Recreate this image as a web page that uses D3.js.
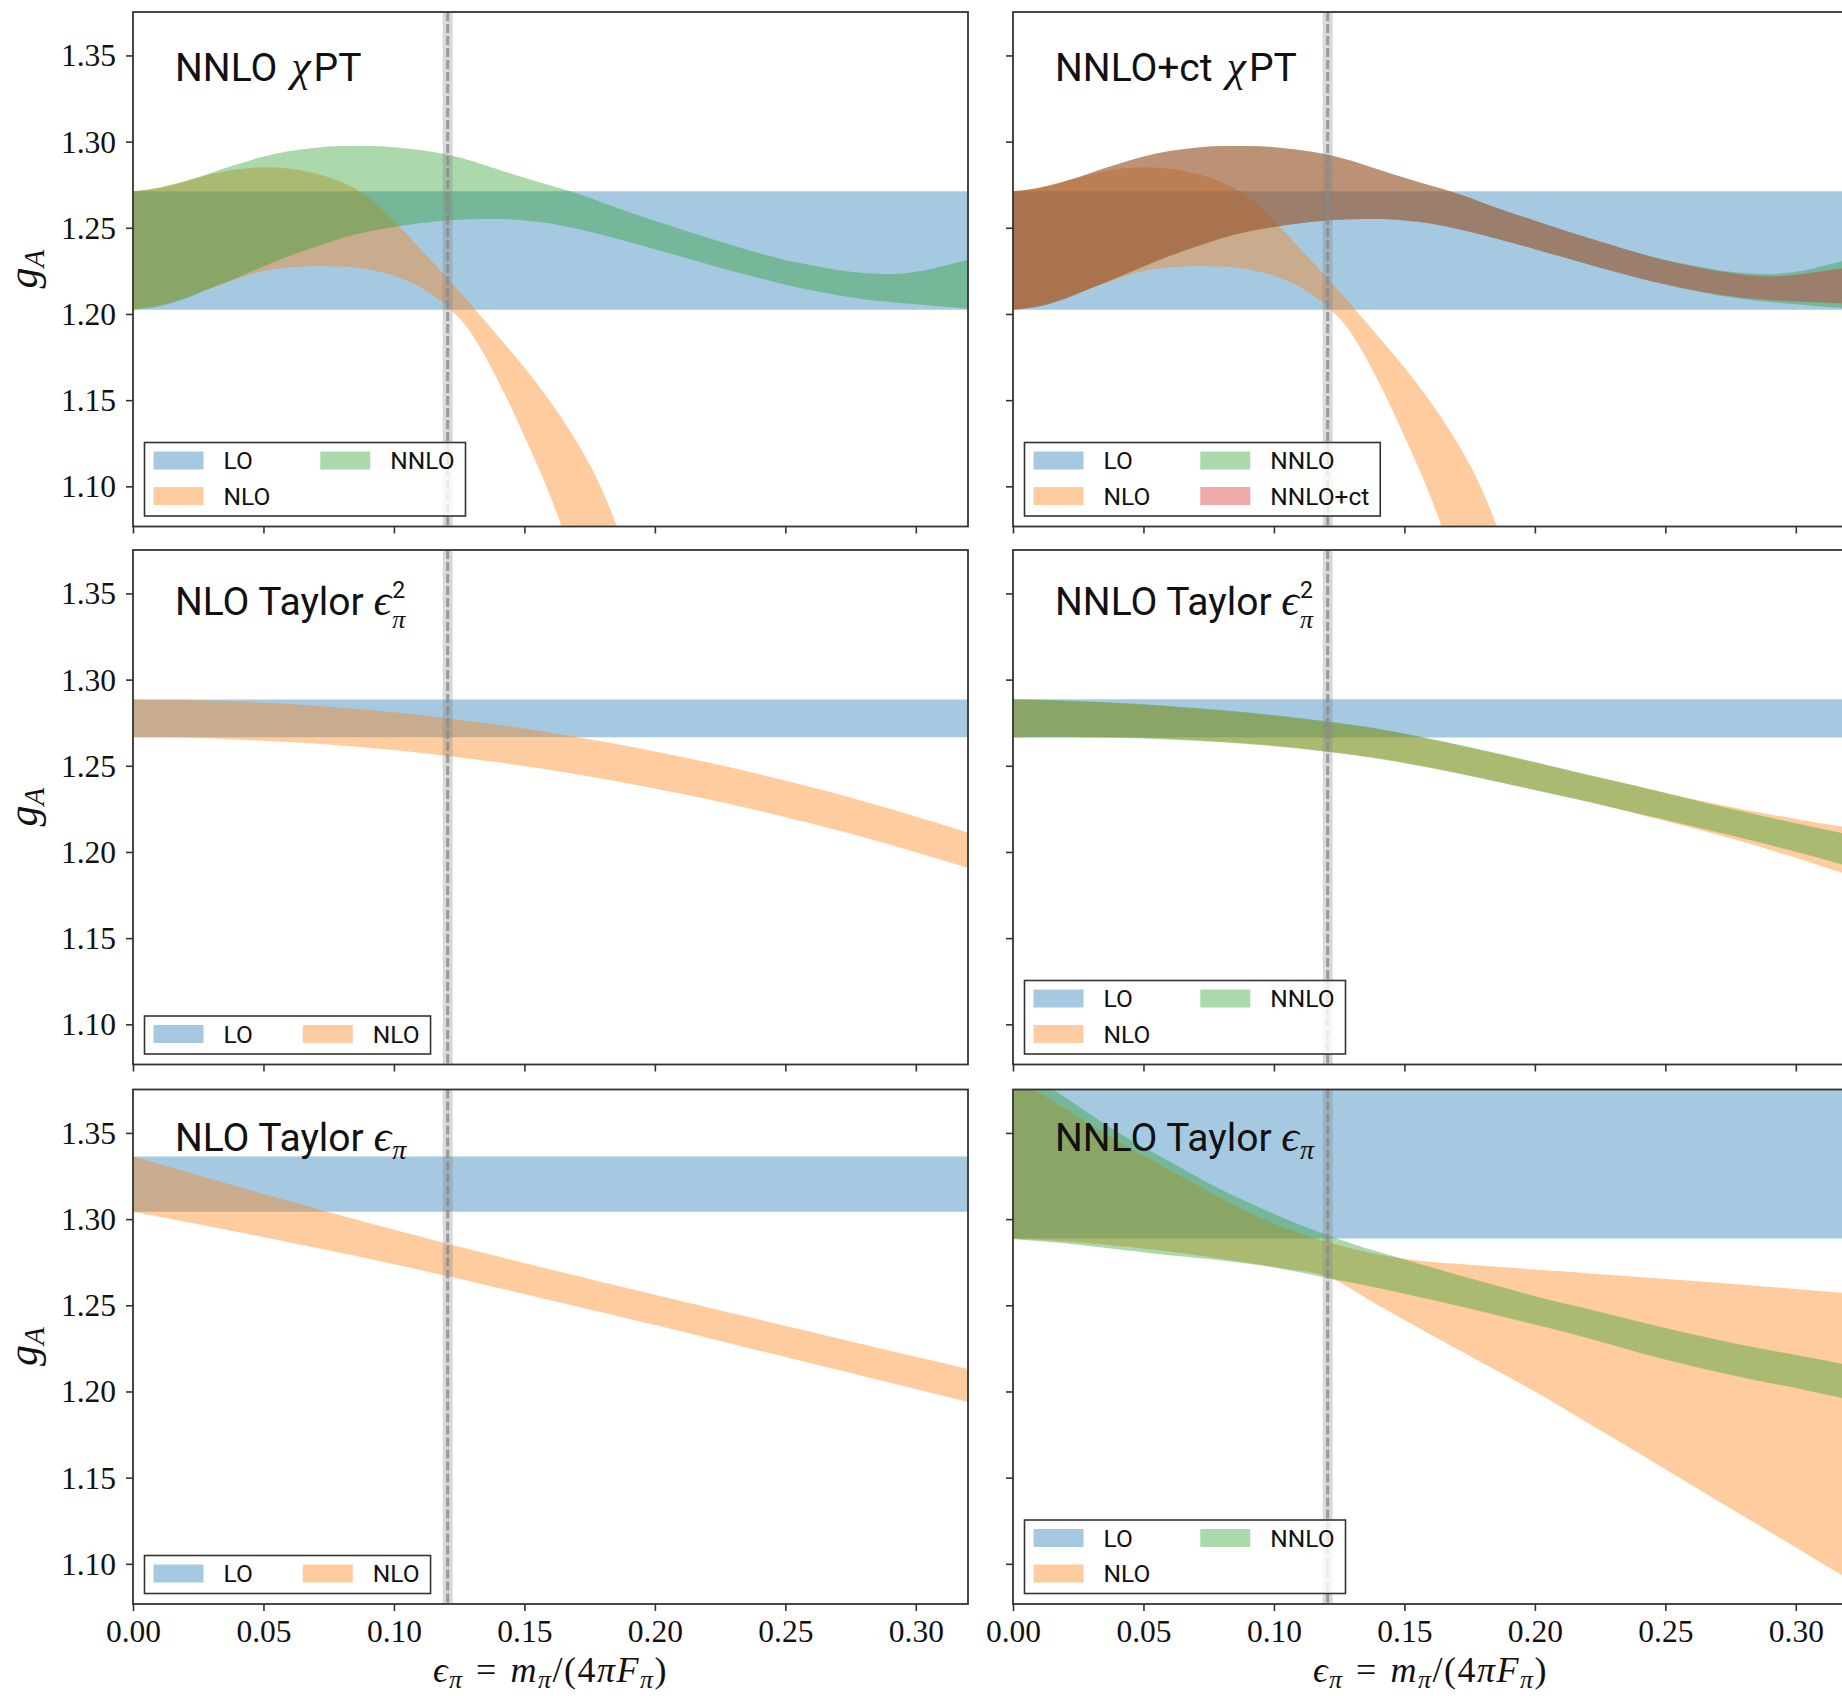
<!DOCTYPE html>
<html>
<head>
<meta charset="utf-8">
<script src="https://cdn.jsdelivr.net/npm/d3@7"></script>
<style>
  body { margin: 0; background: #fff; }
  svg { display: block; }
</style>
</head>
<body>
<svg id="fig" width="1842" height="1696"></svg>
<script>
// ---------------------------------------------------------------
// g_A versus eps_pi = m_pi/(4 pi F_pi): order-by-order bands
// ---------------------------------------------------------------

// x sample positions
const epsChi = [0.00,0.01,0.02,0.03,0.04,0.05,0.06,0.07,0.08,0.09,0.10,0.11,0.12,0.13,0.14,0.15,0.16,
                0.17,0.18,0.19,0.20,0.21,0.22,0.23,0.24,0.25,0.26,0.27,0.28,0.29,0.30,0.31,0.32];
const epsTaylor = [0.00,0.02,0.04,0.06,0.08,0.10,0.12,0.14,0.16,0.18,0.20,0.22,0.24,0.26,0.28,0.30,0.32];

// physical point
const epsPhys = 0.1206;
const epsPhysHalfWidth = 0.0019;

// tick labels
const xTicks = [0.00, 0.05, 0.10, 0.15, 0.20, 0.25, 0.30];
const yTicks = [1.10, 1.15, 1.20, 1.25, 1.30, 1.35];

// --- NNLO chiPT fit (top row) ---
const chiLO = [1.2025, 1.2712];
const chiNLOlo = [1.2025,1.2050,1.2095,1.2150,1.2205,1.2250,1.2270,1.2279,1.2276,1.2260,1.2222,
                  1.2155,1.2050,1.1880,1.1610,1.1290,1.0940,1.0520,1.0050,0.9550];
const chiNLOhi = [1.2712,1.2734,1.2771,1.2810,1.2840,1.2851,1.2843,1.2815,1.2765,1.2680,1.2540,
                  1.2380,1.2215,1.2045,1.1870,1.1690,1.1490,1.1260,1.0972,1.0580];
const chiNNLOlo = [1.2025,1.2043,1.2088,1.2150,1.2212,1.2276,1.2336,1.2390,1.2440,1.2478,1.2505,
                   1.2527,1.2542,1.2550,1.2551,1.2543,1.2525,1.2495,1.2458,1.2418,1.2376,1.2333,
                   1.2290,1.2248,1.2208,1.2170,1.2137,1.2108,1.2086,1.2070,1.2057,1.2044,1.2031];
const chiNNLOhi = [1.2712,1.2731,1.2770,1.2820,1.2868,1.2914,1.2946,1.2965,1.2974,1.2975,1.2968,
                   1.2952,1.2927,1.2887,1.2838,1.2790,1.2745,1.2700,1.2646,1.2592,1.2541,1.2492,
                   1.2444,1.2397,1.2352,1.2313,1.2282,1.2255,1.2238,1.2231,1.2245,1.2277,1.2315];
const chiCtLo = [1.2025,1.2043,1.2088,1.2150,1.2212,1.2276,1.2336,1.2390,1.2440,1.2478,1.2505,
                 1.2527,1.2542,1.2550,1.2551,1.2543,1.2525,1.2495,1.2458,1.2418,1.2376,1.2333,
                 1.2290,1.2248,1.2208,1.2172,1.2140,1.2113,1.2094,1.2081,1.2073,1.2066,1.2060];
const chiCtHi = [1.2712,1.2731,1.2770,1.2820,1.2868,1.2914,1.2946,1.2965,1.2974,1.2975,1.2968,
                 1.2952,1.2927,1.2887,1.2838,1.2790,1.2745,1.2700,1.2646,1.2592,1.2541,1.2492,
                 1.2444,1.2397,1.2352,1.2311,1.2278,1.2249,1.2228,1.2218,1.2228,1.2248,1.2268];

// --- Taylor eps^2 fits (middle row) ---
const t2nloLO = [1.2665, 1.2885];
const t2nloNLOlo = [1.2665,1.2662,1.2653,1.2638,1.2618,1.2591,1.2558,1.2520,1.2476,1.2425,1.2369,
                    1.2307,1.2239,1.2165,1.2085,1.1999,1.1907];
const t2nloNLOhi = [1.2885,1.2882,1.2873,1.2858,1.2837,1.2810,1.2776,1.2737,1.2692,1.2641,1.2583,
                    1.2520,1.2451,1.2375,1.2294,1.2206,1.2113];
const t2nnloLO = [1.2664, 1.2886];
const t2nnloNLOlo = [1.2667,1.2668,1.2665,1.2656,1.2640,1.2617,1.2585,1.2544,1.2490,1.2428,1.2361,
                     1.2294,1.2218,1.2141,1.2058,1.1966,1.1868];
const t2nnloNLOhi = [1.2883,1.2876,1.2863,1.2844,1.2820,1.2791,1.2755,1.2712,1.2654,1.2588,1.2519,
                     1.2446,1.2380,1.2309,1.2246,1.2192,1.2142];
const t2nnloNNLOlo = [1.2664,1.2665,1.2662,1.2653,1.2637,1.2614,1.2582,1.2541,1.2487,1.2425,1.2358,
                      1.2291,1.2222,1.2151,1.2078,1.2001,1.1918];
const t2nnloNNLOhi = [1.2886,1.2879,1.2866,1.2847,1.2823,1.2794,1.2758,1.2715,1.2657,1.2591,1.2522,
                      1.2449,1.2378,1.2305,1.2234,1.2167,1.2102];

// --- Taylor eps fits (bottom row) ---
const t1nloLO = [1.3043, 1.3363];
const t1nloNLOlo = [1.3043,1.2984,1.2925,1.2865,1.2803,1.2738,1.2671,1.2601,1.2530,1.2458,1.2385,
                    1.2311,1.2237,1.2163,1.2089,1.2014,1.1939];
const t1nloNLOhi = [1.3363,1.3276,1.3189,1.3103,1.3019,1.2938,1.2859,1.2783,1.2708,1.2634,1.2561,
                    1.2489,1.2417,1.2345,1.2273,1.2202,1.2131];
const t1nnloLO = [1.2888, 1.3810];
const t1nnloNLOlo = [1.2885,1.2870,1.2845,1.2812,1.2770,1.2722,1.2668,1.2500,1.2330,1.2165,1.2000,
                     1.1820,1.1640,1.1458,1.1276,1.1095,1.0912];
const t1nnloNLOhi = [1.3830,1.3640,1.3455,1.3285,1.3120,1.2975,1.2870,1.2795,1.2752,1.2730,1.2708,
                     1.2686,1.2664,1.2642,1.2619,1.2595,1.2570];
const t1nnloNNLOlo = [1.2885,1.2860,1.2825,1.2790,1.2760,1.2720,1.2660,1.2600,1.2533,1.2462,1.2388,
                      1.2310,1.2225,1.2148,1.2080,1.2020,1.1955];
const t1nnloNNLOhi = [1.3900,1.3705,1.3505,1.3335,1.3170,1.3030,1.2910,1.2810,1.2722,1.2636,1.2553,
                      1.2480,1.2405,1.2333,1.2268,1.2212,1.2155];

// ---------------------------------------------------------------
// styling and layout
// ---------------------------------------------------------------
const COLORS = { "LO": "#1f77b4", "NLO": "#ff7f0e", "NNLO": "#2ca02c", "NNLO+ct": "#d62728" };
const ALPHA = 0.4;
const SANS = "Roboto, 'Liberation Sans', sans-serif";
const SERIF = "'Liberation Serif', 'DejaVu Serif', serif";
const MATH = "'Liberation Serif', 'DejaVu Serif', serif";

const PANEL_W = 835, PANEL_H = 514.5;
const COL_X = [133, 1013];
const ROW_Y = [12, 550, 1089.5];
const TITLE_BASE = [80.5, 614.5, 1151];

const x = d3.scaleLinear().domain([0, 0.32]).range([0, PANEL_W]);
const y = d3.scaleLinear().domain([1.0767, 1.3752]).range([PANEL_H, 0]);

function bandRows(xs, lo, hi) {
  return lo.map((v, i) => [xs[i], v, hi[i]]);
}
function flatBand(v) {
  return [[0, v[0], v[1]], [0.32, v[0], v[1]]];
}

const panels = [
  { col: 0, row: 0, title: [{ t: "NNLO" }, { t: "χ", m: true, dx: 14 }, { t: "PT", dx: 3 }],
    bands: [
      { k: "LO", d: flatBand(chiLO) },
      { k: "NLO", d: bandRows(epsChi, chiNLOlo, chiNLOhi) },
      { k: "NNLO", d: bandRows(epsChi, chiNNLOlo, chiNNLOhi) } ],
    legend: [["LO", "NLO"], ["NNLO"]] },
  { col: 1, row: 0, title: [{ t: "NNLO+ct" }, { t: "χ", m: true, dx: 14 }, { t: "PT", dx: 3 }],
    bands: [
      { k: "LO", d: flatBand(chiLO) },
      { k: "NLO", d: bandRows(epsChi, chiNLOlo, chiNLOhi) },
      { k: "NNLO", d: bandRows(epsChi, chiNNLOlo, chiNNLOhi) },
      { k: "NNLO+ct", d: bandRows(epsChi, chiCtLo, chiCtHi) } ],
    legend: [["LO", "NLO"], ["NNLO", "NNLO+ct"]] },
  { col: 0, row: 1, title: [{ t: "NLO Taylor " }, { t: "ϵ", m: true, sup: "2", sub: "π" }],
    bands: [
      { k: "LO", d: flatBand(t2nloLO) },
      { k: "NLO", d: bandRows(epsTaylor, t2nloNLOlo, t2nloNLOhi) } ],
    legend: [["LO"], ["NLO"]] },
  { col: 1, row: 1, title: [{ t: "NNLO Taylor " }, { t: "ϵ", m: true, sup: "2", sub: "π" }],
    bands: [
      { k: "LO", d: flatBand(t2nnloLO) },
      { k: "NLO", d: bandRows(epsTaylor, t2nnloNLOlo, t2nnloNLOhi) },
      { k: "NNLO", d: bandRows(epsTaylor, t2nnloNNLOlo, t2nnloNNLOhi) } ],
    legend: [["LO", "NLO"], ["NNLO"]] },
  { col: 0, row: 2, title: [{ t: "NLO Taylor " }, { t: "ϵ", m: true, sub: "π" }],
    bands: [
      { k: "LO", d: flatBand(t1nloLO) },
      { k: "NLO", d: bandRows(epsTaylor, t1nloNLOlo, t1nloNLOhi) } ],
    legend: [["LO"], ["NLO"]] },
  { col: 1, row: 2, title: [{ t: "NNLO Taylor " }, { t: "ϵ", m: true, sub: "π" }],
    bands: [
      { k: "LO", d: flatBand(t1nnloLO) },
      { k: "NLO", d: bandRows(epsTaylor, t1nnloNLOlo, t1nnloNLOhi) },
      { k: "NNLO", d: bandRows(epsTaylor, t1nnloNNLOlo, t1nnloNNLOhi) } ],
    legend: [["LO", "NLO"], ["NNLO"]] }
];

const svg = d3.select("#fig");
const defs = svg.append("defs");

const area = d3.area()
  .x(d => x(d[0]))
  .y0(d => y(d[1]))
  .y1(d => y(d[2]))
  .curve(d3.curveMonotoneX);

// Title in one text element; a math symbol may carry a stacked super/subscript
function drawTitle(g, segs, tx, ty) {
  const text = g.append("text").attr("x", tx).attr("y", ty)
    .attr("font-size", 39).attr("fill", "#111");
  let scripts = null;
  segs.forEach(s => {
    const ts = text.append("tspan").text(s.t)
      .attr("font-family", s.m ? MATH : SANS)
      .attr("font-style", s.m ? "italic" : "normal")
      .attr("font-size", s.m ? 44 : 39);
    if (s.dx) ts.attr("dx", s.dx);
    if (s.sup || s.sub) scripts = s;
  });
  if (scripts) {
    const sx = tx + text.node().getComputedTextLength() + 1;
    if (scripts.sup) {
      text.append("tspan").text(scripts.sup).attr("x", sx).attr("y", ty - 17)
        .attr("font-family", SANS).attr("font-size", 23);
      text.append("tspan").text(scripts.sub).attr("x", sx).attr("y", ty + 13)
        .attr("font-family", MATH).attr("font-style", "italic").attr("font-size", 26);
    } else {
      text.append("tspan").text(scripts.sub).attr("x", sx).attr("y", ty + 8)
        .attr("font-family", MATH).attr("font-style", "italic").attr("font-size", 28);
    }
  }
}

function drawLegend(g, cols) {
  const PAD_L = 9, PATCH_W = 50, PATCH_H = 18, GAP = 20, COL_SP = 50, PAD_R = 11;
  const TOP = 18, ROW_H = 35.5, BOT = 20;
  const nRows = d3.max(cols, c => c.length);
  const lg = g.append("g");
  const box = lg.append("rect");
  let cx = PAD_L;
  cols.forEach((col, ci) => {
    let maxW = 0;
    col.forEach((k, ri) => {
      const cy = TOP + ri * ROW_H;
      lg.append("rect").attr("x", cx).attr("y", cy - PATCH_H / 2)
        .attr("width", PATCH_W).attr("height", PATCH_H)
        .attr("fill", COLORS[k]).attr("fill-opacity", ALPHA);
      const t = lg.append("text").attr("x", cx + PATCH_W + GAP).attr("y", cy + 8.6)
        .text(k).attr("font-family", SANS).attr("font-size", 24.5).attr("fill", "#111");
      maxW = Math.max(maxW, t.node().getComputedTextLength());
    });
    cx += PATCH_W + GAP + maxW + (ci < cols.length - 1 ? COL_SP : PAD_R);
  });
  const boxW = cx, boxH = TOP + (nRows - 1) * ROW_H + BOT;
  box.attr("x", 0).attr("y", 0).attr("width", boxW).attr("height", boxH)
    .attr("fill", "#fff").attr("fill-opacity", 0.8)
    .attr("stroke", "#333").attr("stroke-width", 1.6);
  lg.attr("transform", `translate(11.5, ${PANEL_H - 10.5 - boxH})`);
}

panels.forEach((p, pi) => {
  const px = COL_X[p.col], py = ROW_Y[p.row];
  const g = svg.append("g").attr("transform", `translate(${px},${py})`);
  const clipId = "clip" + pi;
  defs.append("clipPath").attr("id", clipId)
    .append("rect").attr("width", PANEL_W).attr("height", PANEL_H);

  const plot = g.append("g").attr("clip-path", `url(#${clipId})`);
  p.bands.forEach(b => {
    plot.append("path").datum(b.d).attr("d", area)
      .attr("fill", COLORS[b.k]).attr("fill-opacity", ALPHA);
  });

  // physical pion mass point
  plot.append("rect")
    .attr("x", x(epsPhys - epsPhysHalfWidth)).attr("y", 0)
    .attr("width", x(epsPhys + epsPhysHalfWidth) - x(epsPhys - epsPhysHalfWidth))
    .attr("height", PANEL_H).attr("fill", "#808080").attr("fill-opacity", 0.3);
  plot.append("line")
    .attr("x1", x(epsPhys)).attr("x2", x(epsPhys)).attr("y1", 0).attr("y2", PANEL_H)
    .attr("stroke", "#8a8a8a").attr("stroke-opacity", 0.8)
    .attr("stroke-width", 3).attr("stroke-dasharray", "9,3");

  drawLegend(g, p.legend);

  // axes
  const showXLabels = p.row === 2, showYLabels = p.col === 0;
  const xAxis = d3.axisBottom(x).tickValues(xTicks).tickSizeOuter(0).tickSize(7).tickPadding(11)
    .tickFormat(showXLabels ? d3.format(".2f") : () => "");
  const yAxis = d3.axisLeft(y).tickValues(yTicks).tickSizeOuter(0).tickSize(7).tickPadding(10)
    .tickFormat(showYLabels ? d3.format(".2f") : () => "");
  const gx = g.append("g").attr("transform", `translate(0,${PANEL_H})`).call(xAxis);
  const gy = g.append("g").call(yAxis);
  [gx, gy].forEach(a => {
    a.select(".domain").remove();
    a.selectAll(".tick line").attr("stroke", "#333").attr("stroke-width", 1.6);
    a.selectAll(".tick text").attr("font-family", SERIF).attr("font-size", 31.5).attr("fill", "#111");
  });
  gy.selectAll(".tick text").attr("dy", "0.33em");
  gx.selectAll(".tick text").attr("dy", "0.64em");

  // frame
  g.append("rect").attr("width", PANEL_W).attr("height", PANEL_H)
    .attr("fill", "none").attr("stroke", "#333").attr("stroke-width", 1.8);

  // title
  drawTitle(g, p.title, 42, TITLE_BASE[p.row] - py);
});

// y-axis labels g_A
ROW_Y.forEach(ry => {
  const cy = ry + PANEL_H / 2;
  const t = svg.append("text")
    .attr("transform", `translate(37,${cy}) rotate(-90)`)
    .attr("text-anchor", "middle").attr("font-family", MATH).attr("font-style", "italic")
    .attr("font-size", 42).attr("fill", "#111");
  t.append("tspan").text("g");
  t.append("tspan").text("A").attr("font-size", 29).attr("dy", 7);
});

// x-axis labels
COL_X.forEach(cx => {
  const t = svg.append("text")
    .attr("x", cx + PANEL_W / 2).attr("y", 1682)
    .attr("text-anchor", "middle").attr("font-family", MATH).attr("font-size", 36)
    .attr("letter-spacing", 1.5).attr("fill", "#111");
  const it = s => t.append("tspan").text(s).attr("font-style", "italic");
  const sub = s => t.append("tspan").text(s).attr("font-style", "italic").attr("font-size", 26).attr("dy", 6);
  const up = (s, dx) => t.append("tspan").text(s).attr("font-style", "normal").attr("dy", -6).attr("dx", dx || 0);
  it("ϵ"); sub("π"); up(" = ", 2);
  it("m").attr("dx", 2); sub("π"); up("/(4");
  it("πF"); sub("π"); up(")");
});
</script>
</body>
</html>
